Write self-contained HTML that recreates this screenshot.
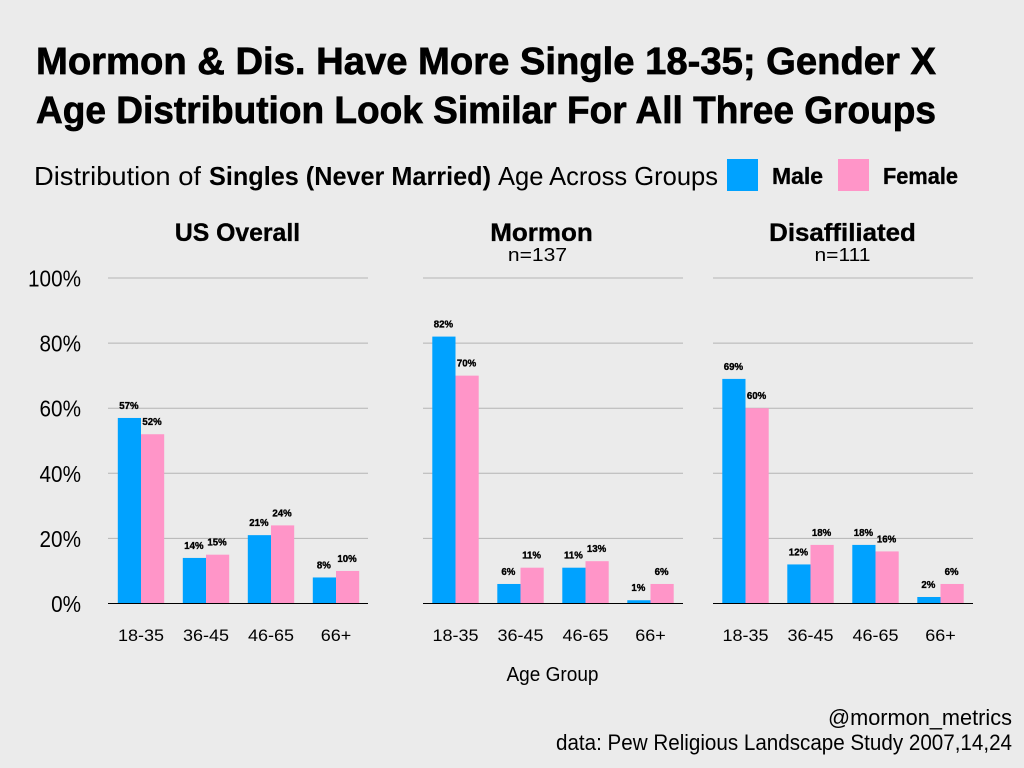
<!DOCTYPE html>
<html lang="en">
<head>
<meta charset="utf-8">
<title>Singles Age Distribution</title>
<style>
html,body{margin:0;padding:0;background:#ebebeb;}
svg{display:block;font-family:"Liberation Sans",sans-serif;}
text{fill:#000;}
.heavy{stroke:#000;stroke-width:.7px;}
.semi{stroke:#000;stroke-width:.35px;}
</style>
</head>
<body>
<svg id="chart" width="1024" height="768" viewBox="0 0 1024 768" xmlns="http://www.w3.org/2000/svg">
<rect width="1024" height="768" fill="#ebebeb"/>
<text class="heavy" x="36" y="74" font-size="38" font-weight="700" textLength="900" lengthAdjust="spacingAndGlyphs">Mormon &amp; Dis. Have More Single 18-35; Gender X</text>
<text class="heavy" x="36" y="123" font-size="38" font-weight="700" textLength="900" lengthAdjust="spacingAndGlyphs">Age Distribution Look Similar For All Three Groups</text>
<text x="34" y="185" font-size="26" textLength="167" lengthAdjust="spacingAndGlyphs">Distribution of</text>
<text x="209" y="185" font-size="26" font-weight="700" textLength="282" lengthAdjust="spacingAndGlyphs">Singles (Never Married)</text>
<text x="498" y="185" font-size="26" textLength="220" lengthAdjust="spacingAndGlyphs">Age Across Groups</text>
<rect x="727" y="159" width="31" height="32" fill="#00a2ff"/>
<text class="semi" x="772" y="184" font-size="23" font-weight="700" textLength="51" lengthAdjust="spacingAndGlyphs">Male</text>
<rect x="838" y="159" width="31" height="32" fill="#ff95c8"/>
<text class="semi" x="883" y="184" font-size="23" font-weight="700" textLength="75" lengthAdjust="spacingAndGlyphs">Female</text>
<text x="552.5" y="681" font-size="20" text-anchor="middle" textLength="92" lengthAdjust="spacingAndGlyphs">Age Group</text>
<text x="1012" y="725" font-size="22" text-anchor="end" textLength="184" lengthAdjust="spacingAndGlyphs">@mormon_metrics</text>
<text x="1012" y="750" font-size="22" text-anchor="end" textLength="456" lengthAdjust="spacingAndGlyphs">data: Pew Religious Landscape Study 2007,14,24</text>
<g id="panels"></g>
</svg>
<script>
const panelNames = ["US Overall", "Mormon", "Disaffiliated"];
const panelSubtitles = ["", "n=137", "n=111"];
const categories = ["18-35", "36-45", "46-65", "66+"];
const maleValues = [
  [57, 14, 21, 8],
  [82, 6, 11, 1],
  [69, 12, 18, 2]
];
const femaleValues = [
  [52, 15, 24, 10],
  [70, 11, 13, 6],
  [60, 18, 16, 6]
];
const yTicks = [0, 20, 40, 60, 80, 100];

const NS = "http://www.w3.org/2000/svg";
const root = document.getElementById("panels");
const panelLeft = [108, 423, 713];
const firstBandCenter = [141, 455.5, 745.5];
const titleCenter = [237.5, 541.5, 842.5];
const subtitleCenter = [237.5, 537.5, 842.5];
const titleScale = [0.99, 1.04, 1.035];
const panelWidth = 260;
const bandStep = 65;
const barWidth = 23.2;

function yScale(v) {
  return 603.5 - v * 3.255;
}
function xCenter(panel, cat) {
  return firstBandCenter[panel] + cat * bandStep;
}
function make(tag, attrs, parent, content) {
  const el = document.createElementNS(NS, tag);
  for (const k in attrs) el.setAttribute(k, attrs[k]);
  if (content !== undefined) el.textContent = content;
  parent.appendChild(el);
  return el;
}
function stretch(el, factor) {
  el.setAttribute("textLength", el.getComputedTextLength() * factor);
  el.setAttribute("lengthAdjust", "spacingAndGlyphs");
}
function label(parent, x, v) {
  const t = make("text", {
    x: x, y: yScale(v) - 9, "font-size": 10.5, "font-weight": 700,
    "text-anchor": "middle", "class": "semi"
  }, parent, v + "%");
  
  
  stretch(t, 0.92);
}

yTicks.forEach(function (tick) {
  const t = make("text", {
    x: 81, y: yScale(tick) + 8.5, "font-size": 23, "text-anchor": "end"
  }, root, tick + "%");
  
  
  stretch(t, 0.9);
});

panelNames.forEach(function (name, p) {
  const g = make("g", {}, root);
  
  

  const title = make("text", {
    x: titleCenter[p], y: 241, "font-size": 25, "font-weight": 700,
    "text-anchor": "middle", "class": "semi"
  }, g, name);
  
  
  stretch(title, titleScale[p]);

  if (panelSubtitles[p]) {
    const sub = make("text", {
      x: subtitleCenter[p], y: 261, "font-size": 18, "text-anchor": "middle"
    }, g, panelSubtitles[p]);
    
    
    stretch(sub, 1.17);
  }

  yTicks.forEach(function (tick) {
    if (tick === 0) return;
    const line = make("line", {
      x1: panelLeft[p], x2: panelLeft[p] + panelWidth,
      y1: yScale(tick), y2: yScale(tick),
      stroke: "#b4b4b4", "stroke-width": 1
    }, g);
    
    
  });

  categories.forEach(function (cat, c) {
    const center = xCenter(p, c);
    const m = maleValues[p][c];
    const f = femaleValues[p][c];

    const mBar = make("rect", {
      x: center - barWidth, y: yScale(m), width: barWidth,
      height: yScale(0) - yScale(m), fill: "#00a2ff"
    }, g);
    
    

    const fBar = make("rect", {
      x: center, y: yScale(f), width: barWidth,
      height: yScale(0) - yScale(f), fill: "#ff95c8"
    }, g);
    
    

    label(g, center - barWidth / 2 - 0.5, m);
    label(g, center + barWidth / 2 - 0.5, f);

    const tick = make("text", {
      x: center, y: 641, "font-size": 17, "text-anchor": "middle"
    }, g, cat);
    
    
    stretch(tick, 1.06);
  });

  const axis = make("line", {
    x1: panelLeft[p], x2: panelLeft[p] + panelWidth,
    y1: yScale(0), y2: yScale(0), stroke: "#000", "stroke-width": 1
  }, g);
  
  
});
</script>
</body>
</html>
